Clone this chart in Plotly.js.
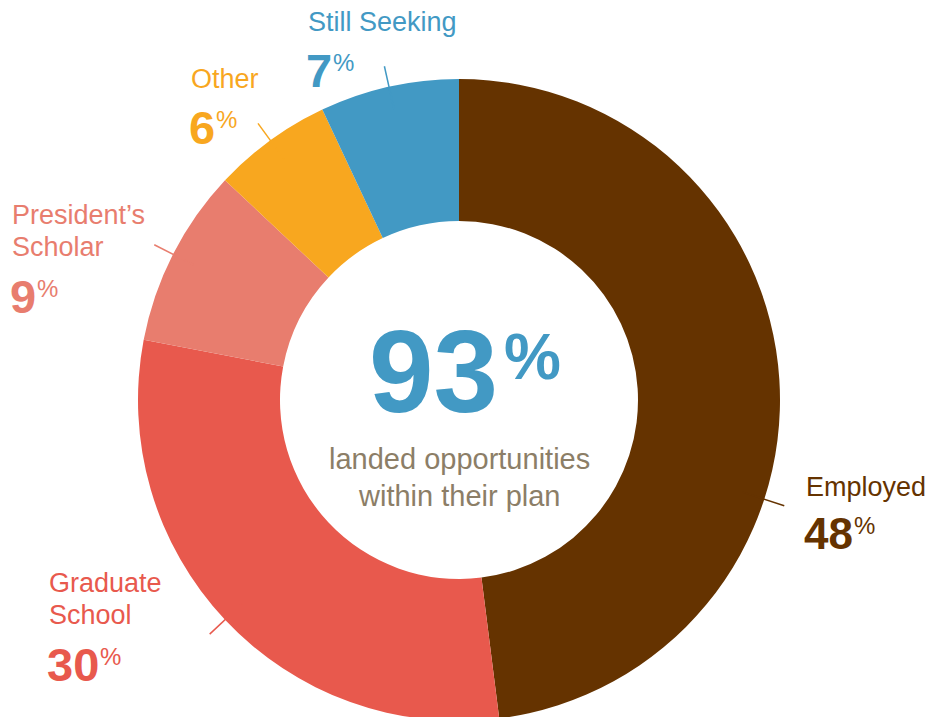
<!DOCTYPE html>
<html>
<head>
<meta charset="utf-8">
<script src="https://cdn.plot.ly/plotly-3.0.1.min.js"></script>
<style>
  html, body { margin: 0; padding: 0; overflow: hidden; background: #ffffff; }
  #chart { width: 927px; height: 760px; }
</style>
</head>
<body>
<div id="chart"></div>
<script>
// ---- Data ----
var categories = ["Employed", "Graduate School", "President\u2019s Scholar", "Other", "Still Seeking"];
var labelLines = [["Employed"], ["Graduate", "School"], ["President\u2019s", "Scholar"], ["Other"], ["Still Seeking"]];
var shares = [48, 30, 9, 6, 7];
var headlineValue = 93;
var headlineCaption = ["landed opportunities", "within their plan"];

// ---- Styles / layout config ----
var colors = ["#653300", "#E8594D", "#E87D6E", "#F8A71F", "#4299C4"];
var captionColor = "#8C7E67";
var W = 927, H = 760;
var cx = 459, cy = 400, R = 321, Rin = 179;

// label block placement (left x, y of first text line centre, y of number centre)
var labelPos = [
  {x: 805, y: 487, ny: 533, nsize: 44, angle: 108},
  {x: 48,  y: 583, ny: 664.5, nsize: 47, angle: null},
  {x: 11,  y: 215, ny: 296, nsize: 47, angle: null},
  {x: 190, y: 79,  ny: 127.5, nsize: 47, angle: null},
  {x: 307, y: 21.5, ny: 70.5, nsize: 47, angle: null}
];
var lineGap = 32;

function px(x) { return x / W; }
function py(y) { return 1 - y / H; }

var labelFont = "Liberation Sans, Arial, sans-serif";
var numFont = "Liberation Sans, Arial, sans-serif";

var ctx = document.createElement("canvas").getContext("2d");
function textWidth(t, size, weight, family) {
  ctx.font = weight + " " + size + "px " + family;
  return ctx.measureText(t).width;
}

var annotations = [];
var shapes = [];
var total = shares.reduce(function (a, b) { return a + b; }, 0);
var cum = 0;
for (var i = 0; i < shares.length; i++) {
  var mid = (cum + shares[i] / 2) / total * 360;
  cum += shares[i];
  var lp = labelPos[i];
  var ang = (lp.angle !== null ? lp.angle : mid) * Math.PI / 180;
  var r1 = 298, r2 = 342;
  shapes.push({
    type: "line", xref: "paper", yref: "paper",
    x0: px(cx + r1 * Math.sin(ang)), y0: py(cy - r1 * Math.cos(ang)),
    x1: px(cx + r2 * Math.sin(ang)), y1: py(cy - r2 * Math.cos(ang)),
    line: {color: colors[i], width: 1.5}
  });
  labelLines[i].forEach(function (t, k) {
    annotations.push({
      xref: "paper", yref: "paper", x: px(lp.x), y: py(lp.y + k * lineGap),
      xanchor: "left", yanchor: "middle", showarrow: false, text: t,
      borderpad: 0,
      font: {family: labelFont, size: 27, color: colors[i]}
    });
  });
  var numText = String(shares[i]);
  var nx = lp.x - 2;
  var nw = textWidth(numText, lp.nsize, "bold", "'Liberation Sans', Arial, sans-serif");
  annotations.push({
    xref: "paper", yref: "paper", x: px(nx), y: py(lp.ny),
    xanchor: "left", yanchor: "middle", showarrow: false, text: numText,
    borderpad: 0,
    font: {family: numFont, size: lp.nsize, color: colors[i], weight: 700}
  });
  annotations.push({
    xref: "paper", yref: "paper", x: px(nx + nw + 1), y: py(lp.ny - 8),
    xanchor: "left", yanchor: "middle", showarrow: false, text: "%",
    borderpad: 0,
    font: {family: labelFont, size: 24, color: colors[i]}
  });
}

// centre headline
annotations.push({
  xref: "paper", yref: "paper", x: px(499), y: py(372),
  xanchor: "right", yanchor: "middle", showarrow: false, text: String(headlineValue),
  borderpad: 0,
  font: {family: labelFont, size: 116, color: "#4299C4", weight: 700}
});
annotations.push({
  xref: "paper", yref: "paper", x: px(503), y: py(357),
  xanchor: "left", yanchor: "middle", showarrow: false, text: "%",
  borderpad: 0,
  font: {family: labelFont, size: 64, color: "#4299C4", weight: 700}
});
headlineCaption.forEach(function (t, k) {
  annotations.push({
    xref: "paper", yref: "paper", x: px(459), y: py(459 + k * 37),
    xanchor: "center", yanchor: "middle", showarrow: false, text: t,
    borderpad: 0,
    font: {family: labelFont, size: 29, color: captionColor}
  });
});

var trace = {
  type: "pie",
  labels: categories,
  values: shares,
  hole: Rin / R,
  sort: false,
  direction: "clockwise",
  rotation: 0,
  textinfo: "none",
  hoverinfo: "label+percent",
  marker: {colors: colors, line: {width: 0}},
  domain: {x: [px(cx - R), px(cx + R)], y: [py(cy + R), py(cy - R)]},
  showlegend: false
};

var layout = {
  width: W, height: H,
  margin: {l: 0, r: 0, t: 0, b: 0},
  paper_bgcolor: "#ffffff",
  showlegend: false,
  annotations: annotations,
  shapes: shapes
};

Plotly.newPlot("chart", [trace], layout, {displayModeBar: false, staticPlot: true});
</script>
</body>
</html>
